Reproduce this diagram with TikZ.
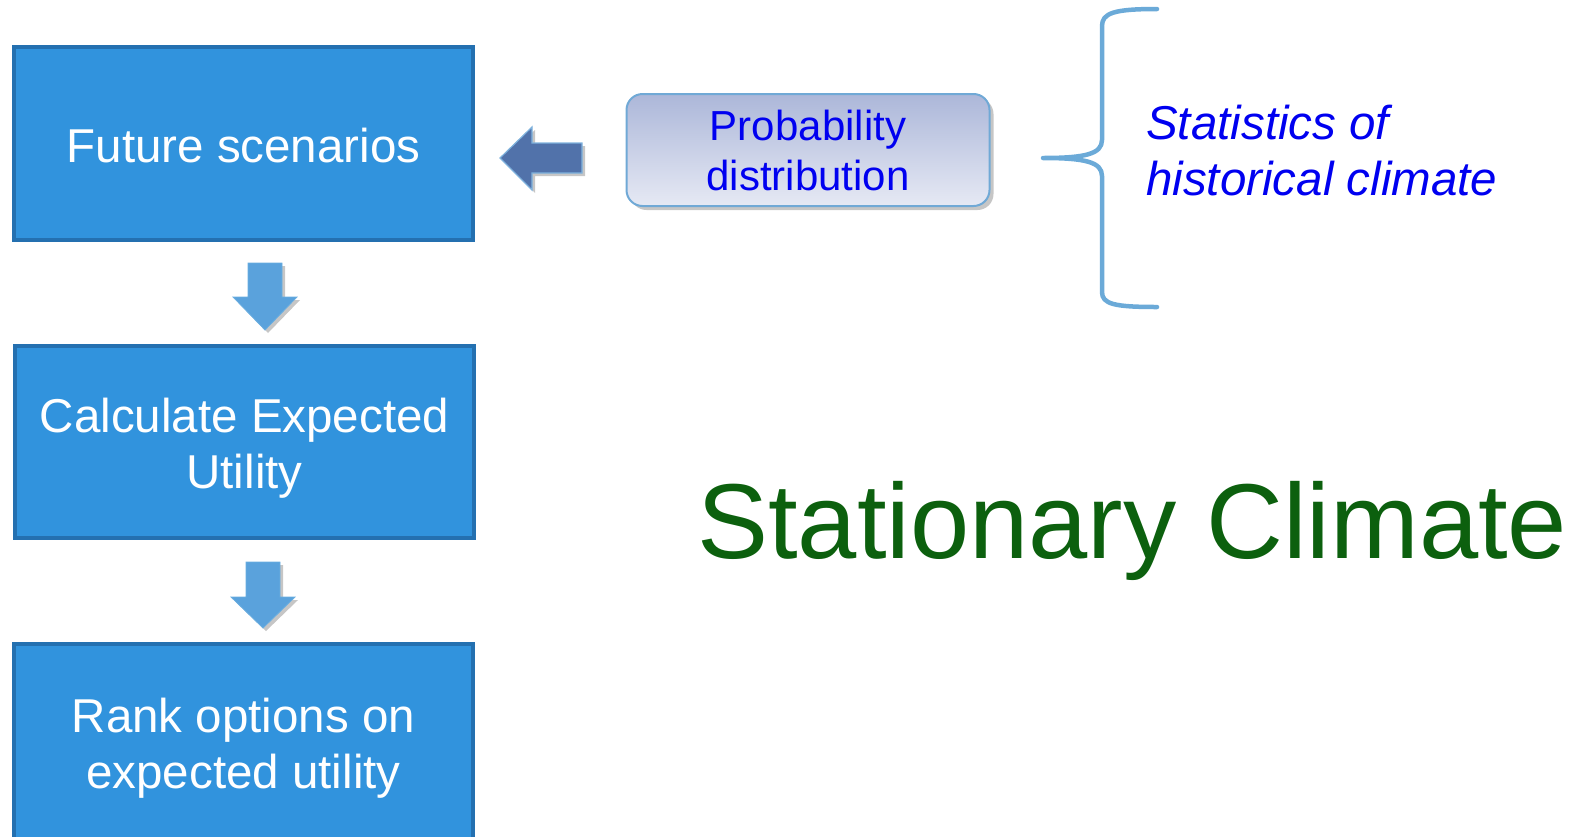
\documentclass[tikz,border=0pt]{standalone}
\usepackage{fontspec}
\setmainfont{Liberation Sans}
\usetikzlibrary{shadows}
\definecolor{boxfill}{HTML}{3193DD}
\definecolor{boxline}{HTML}{2470B0}
\definecolor{darrowtop}{HTML}{5AA2DC}
\definecolor{darrowbot}{HTML}{6AAEE0}
\definecolor{larrow}{HTML}{5172AA}
\definecolor{lborder}{HTML}{7FB2DD}
\definecolor{probtop}{HTML}{ACB7D9}
\definecolor{probbot}{HTML}{E6E9F4}
\definecolor{probline}{HTML}{70A9D6}
\definecolor{bracecol}{HTML}{6BAAD8}
\definecolor{textblue}{HTML}{0000F0}
\definecolor{stgreen}{HTML}{0C600E}
\begin{document}
\begin{tikzpicture}[x=1pt,y=-1pt,
  stepbox/.style={draw=boxline, line width=4pt, fill=boxfill, inner sep=0pt,
    minimum width=459pt},
  steptext/.style={text=white, align=center, inner sep=0pt,
    font=\fontsize{47.5}{56}\selectfont},
  downarrow/.style={fill=darrowtop, draw=darrowbot, line width=0.8pt,
    drop shadow={shadow xshift=3pt, shadow yshift=-3pt, opacity=0.45}},
  leftarrow/.style={fill=larrow, draw=lborder, line width=1.2pt,
    drop shadow={shadow xshift=3pt, shadow yshift=-3pt, opacity=0.45}},
  probbox/.style={draw=probline, line width=2pt, rounded corners=16pt,
    top color=probtop, bottom color=probbot, text=textblue, align=center,
    minimum width=363pt, minimum height=112pt, inner sep=0pt,
    font=\fontsize{42}{50}\selectfont,
    drop shadow={shadow xshift=4pt, shadow yshift=-4pt, opacity=0.45}},
  bracestyle/.style={draw=bracecol, line width=4.5pt, line cap=round, line join=round},
  stattext/.style={text=textblue, align=left, anchor=west, inner sep=0pt,
    font=\fontsize{47.5}{56}\selectfont\itshape},
  titletext/.style={anchor=base west, inner sep=0pt, text=stgreen,
    font=\fontsize{106.5}{120}\selectfont}
]
\useasboundingbox (0,0) rectangle (1581,836);
\clip (0,0) rectangle (1581,836);

% step boxes
\node[stepbox, minimum height=193pt] (fs) at (243.5,143.5) {};
\node[steptext] (fst) at (243.5,146) {Future scenarios};
\node[stepbox, minimum height=192pt] (ce) at (244.5,442) {};
\node[steptext] (cet) at (244.5,448) {Calculate Expected\\Utility};
\node[stepbox, minimum height=197pt] (ro) at (243.5,742.5) {};
\node[steptext] (rot) at (243.5,748) {Rank options on\\expected utility};

% down block arrows
\path[downarrow] (248,263) -- (282,263) -- (282,297) -- (297,297) -- (265,330)
  -- (233,297) -- (248,297) -- cycle;
\path[downarrow] (246,562) -- (280,562) -- (280,597) -- (295,597) -- (263,628)
  -- (231,597) -- (246,597) -- cycle;

% left block arrow
\path[leftarrow] (582,143) -- (532,143) -- (532,127) -- (500,158) -- (532,190)
  -- (532,173) -- (582,173) -- cycle;

% probability box
\node[probbox] (pd) at (808,150) {Probability\\distribution};

% brace
\path[bracestyle] (1157,9) .. controls (1114,9) and (1102,13) .. (1102,26)
  -- (1102,140) .. controls (1102,154) and (1085,158) .. (1043,158)
  .. controls (1085,158) and (1102,162) .. (1102,176)
  -- (1102,292) .. controls (1102,304) and (1114,307) .. (1157,307);

% statistics text
\node[stattext] (st) at (1146,151) {Statistics of\\historical climate};

% Stationary Climate
\node[titletext] (sc) at (697,558) {Stationary Climate};
\end{tikzpicture}
\end{document}
